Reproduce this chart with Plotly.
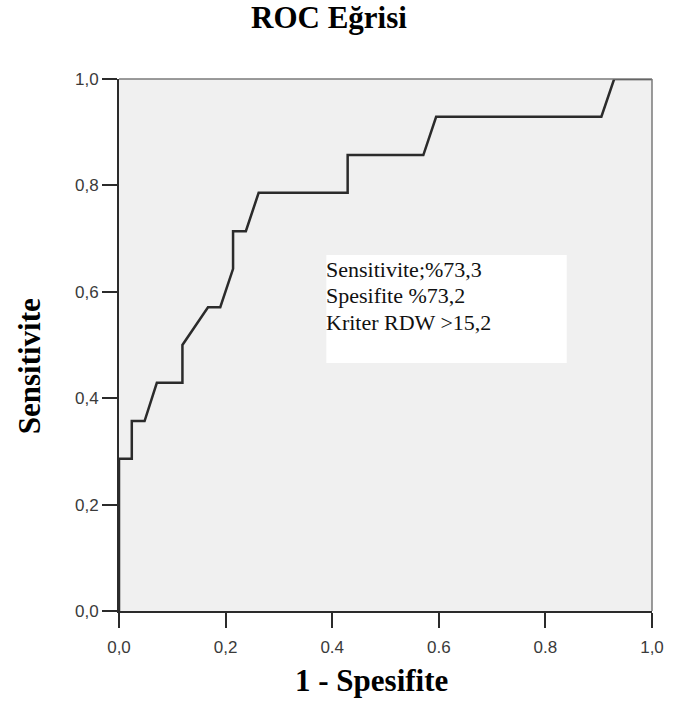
import plotly.graph_objects as go

# ROC curve coordinates (1 - specificity, sensitivity)
fpr = [0.0, 0.0, 0.024, 0.024, 0.048, 0.071, 0.119, 0.119, 0.167, 0.190,
       0.214, 0.214, 0.238, 0.262, 0.429, 0.429, 0.571, 0.595, 0.905, 0.929, 1.0]
tpr = [0.0, 0.286, 0.286, 0.357, 0.357, 0.429, 0.429, 0.500, 0.571, 0.571,
       0.643, 0.714, 0.714, 0.786, 0.786, 0.857, 0.857, 0.929, 0.929, 1.0, 1.0]

x_ticks = [0.0, 0.2, 0.4, 0.6, 0.8, 1.0]
x_tick_text = ["0,0", "0,2", "0.4", "0.6", "0.8", "1,0"]
y_ticks = [0.0, 0.2, 0.4, 0.6, 0.8, 1.0]
y_tick_text = ["0,0", "0,2", "0,4", "0,6", "0,8", "1,0"]

info_lines = ["Sensitivite;%73,3", "Spesifite %73,2", "Kriter RDW >15,2"]
info_box = dict(x0=0.389, x1=0.84, y0=0.466, y1=0.669)

serif = "Liberation Serif, Times New Roman, serif"
sans = "Liberation Sans, Arial, sans-serif"

fig = go.Figure()
fig.add_trace(go.Scatter(
    x=fpr, y=tpr, mode="lines",
    line=dict(color="#2b2b2b", width=2.5),
    hoverinfo="skip", showlegend=False,
))

# white info box with the cut-off summary, one annotation per line
fig.add_shape(type="rect", xref="x", yref="y",
              x0=info_box["x0"], x1=info_box["x1"],
              y0=info_box["y0"], y1=info_box["y1"],
              fillcolor="white", line=dict(width=0), layer="below")
for i, line in enumerate(info_lines):
    fig.add_annotation(
        x=info_box["x0"], y=info_box["y1"], xref="x", yref="y",
        xanchor="left", yanchor="middle", align="left", showarrow=False,
        text=line, xshift=-2, yshift=-(14 + 26.5 * i),
        font=dict(family=serif, size=22, color="#111"),
    )

# top and right frame lines
fig.add_shape(type="line", xref="x domain", yref="y domain",
              x0=0, x1=1, y0=1, y1=1, line=dict(color="#7a7a7a", width=1.5))
fig.add_shape(type="line", xref="x domain", yref="y domain",
              x0=1, x1=1, y0=0, y1=1, line=dict(color="#7a7a7a", width=1.5))

title_font = dict(family=serif, size=31, color="black")
fig.add_annotation(text="<b>ROC Eğrisi</b>", xref="paper", yref="paper",
                   x=0.394, y=1.0, yshift=62, xanchor="center", yanchor="middle",
                   showarrow=False, font=title_font)
fig.add_annotation(text="<b>1 - Spesifite</b>", xref="paper", yref="paper",
                   x=0.474, y=0, yshift=-69, xanchor="center", yanchor="middle",
                   showarrow=False, font=title_font)
fig.add_annotation(text="<b>Sensitivite</b>", xref="paper", yref="paper",
                   x=0, y=0.46, xshift=-90, xanchor="center", yanchor="middle",
                   textangle=-90, showarrow=False, font=title_font)

axis_style = dict(
    range=[0, 1], showgrid=False, zeroline=False, showline=True,
    linecolor="#2b2b2b", linewidth=2, ticks="outside",
    ticklen=15, tickwidth=2, tickcolor="#2b2b2b",
    tickfont=dict(family=sans, size=17, color="#3a3a3a"),
)
fig.update_xaxes(tickvals=x_ticks, ticktext=x_tick_text,
                 ticklabelstandoff=5, **axis_style)
fig.update_yaxes(tickvals=y_ticks, ticktext=y_tick_text, **axis_style)

fig.update_layout(
    width=676, height=704,
    margin=dict(l=119, r=14, t=79, b=93),
    plot_bgcolor="#f0f0f0", paper_bgcolor="white",
)

fig.write_html("out.html")
